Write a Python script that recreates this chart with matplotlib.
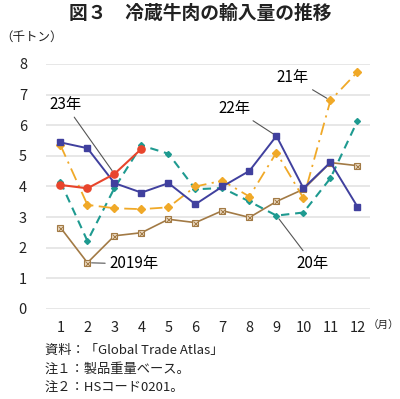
import matplotlib
matplotlib.use("Agg")
import matplotlib.pyplot as plt

plt.rcParams['font.family'] = ['Noto Sans CJK JP', 'DejaVu Sans']

months = list(range(1, 13))
y2019 = [2.66, 1.51, 2.39, 2.49, 2.93, 2.82, 3.21, 2.99, 3.51, 3.91, 4.78, 4.68]
y2020 = [4.15, 2.22, 3.95, 5.34, 5.07, 3.91, 3.95, 3.51, 3.05, 3.15, 4.27, 6.14]
y2021 = [5.35, 3.40, 3.29, 3.26, 3.32, 4.00, 4.19, 3.67, 5.11, 3.62, 6.81, 7.74]
y2022 = [5.44, 5.25, 4.11, 3.80, 4.11, 3.42, 4.00, 4.51, 5.65, 3.94, 4.79, 3.34]
y2023 = [4.05, 3.94, 4.41, 5.23]

fig = plt.figure(figsize=(4, 3.99), dpi=100)
ax = fig.add_axes([0.116, 0.2256, 0.81, 0.614])

# 2019
ax.plot(months, y2019, color="#A27A45", lw=1.2, zorder=3)
ax.plot(months, y2019, ls="none", marker="s", ms=4.8, mfc="#EDDCC5", mec="#A27A45", mew=0.8, zorder=4)
ax.plot(months, y2019, ls="none", marker="x", ms=3.6, mec="#A27A45", mew=0.7, zorder=5)
# 2020
ax.plot(months, y2020, color="#1E9A90", lw=1.5, ls=(0, (4, 2.8)), marker="D", ms=3,
        mfc="#1E9A90", mec="#1E9A90", zorder=3)
# 2021
ax.plot(months, y2021, color="#F0A928", lw=1.3, ls=(0, (7, 3, 1.2, 3)), marker="D", ms=3.6,
        mfc="#F0A928", mec="#F0A928", zorder=3)
# 2022
ax.plot(months, y2022, color="#40409E", lw=1.4, marker="s", ms=4.6,
        mfc="#40409E", mec="#40409E", zorder=6)
# 2023
ax.plot(months[:4], y2023, color="#E8452C", lw=1.5, marker="o", ms=5.2,
        mfc="#E8452C", mec="#E8452C", zorder=7)

ax.set_xlim(0.48, 12.48)
ax.set_ylim(0, 8)
ax.set_xticks(months)
ax.set_yticks(range(0, 9))
ax.grid(axis="y", color="#E3E3E3", lw=1.2)
ax.set_axisbelow(True)
for s in ax.spines.values():
    s.set_visible(False)
ax.tick_params(length=0, labelsize=10.5, colors="#222222")
ax.tick_params(axis="y", pad=14)
ax.tick_params(axis="x", pad=9)

arrow = dict(arrowstyle="-", color="#555555", lw=0.8, shrinkA=1, shrinkB=3)
ax.annotate("23年", xy=(3, 4.41), xytext=(1.78, 6.67), ha="right", va="center",
            fontsize=11, arrowprops=arrow, zorder=8)
ax.annotate("22年", xy=(9, 5.65), xytext=(8.04, 6.54), ha="right", va="center",
            fontsize=11, arrowprops=arrow, zorder=8)
ax.annotate("21年", xy=(11, 6.81), xytext=(10.19, 7.55), ha="right", va="center",
            fontsize=11, arrowprops=arrow, zorder=8)
ax.annotate("20年", xy=(9, 3.05), xytext=(9.74, 1.5), ha="left", va="center",
            fontsize=11, arrowprops=arrow, zorder=8)
ax.annotate("2019年", xy=(2, 1.51), xytext=(2.81, 1.47), ha="left", va="center",
            fontsize=11, arrowprops=arrow, zorder=8)

fig.text(0.5, 1 - 13 / 399, "図３　冷蔵牛肉の輸入量の推移", ha="center", va="center",
         fontsize=13.5, fontweight="bold", color="#222222")
fig.text(0.0, 1 - 37 / 399, "（千トン）", ha="left", va="center", fontsize=9, color="#222222")
fig.text(399 / 400, 1 - 325 / 399, "（月）", ha="right", va="center", fontsize=7.6, color="#222222")

notes = ["資料：「Global Trade Atlas」", "注１：製品重量ベース。", "注２：HSコード0201。"]
for i, t in enumerate(notes):
    fig.text(45 / 400, 1 - (350 + 19.3 * i) / 399, t, ha="left", va="center",
             fontsize=9.5, color="#222222")

fig.savefig("out.png", dpi=100)
